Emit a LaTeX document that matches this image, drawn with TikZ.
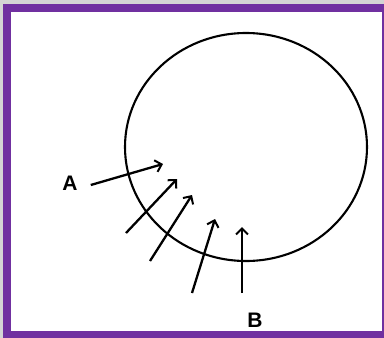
\documentclass[tikz,border=0pt]{standalone}
\usepackage{fontspec}
\setmainfont{Liberation Sans}
\usetikzlibrary{arrows.meta,shapes.geometric}
\definecolor{frame}{HTML}{7030A0}
\definecolor{bggray}{HTML}{D4D4D4}
\tikzset{
  lbl/.style={font=\bfseries\fontsize{21}{21}\selectfont, inner sep=0pt},
  ray/.style={line width=2.3pt, -{Straight Barb[length=6pt,width=12pt,line width=2pt]}},
  body/.style={draw, ellipse, line width=2.1pt, minimum width=242pt, minimum height=228pt, inner sep=0pt}
}
\begin{document}
\begin{tikzpicture}[x=1pt,y=-1pt]
\useasboundingbox (0,0) rectangle (384,338);
\fill[bggray] (0,0) rectangle (384,338);
\fill[frame] (3,4) rectangle (384,338);
\fill[white] (11,12) rectangle (382,331);
\node[body] (circ) at (246,147) {};
\node[lbl] (A) at (70,183) {A};
\node[lbl] (B) at (255,320) {B};
\coordinate (a1) at (163,164);
\coordinate (s2) at (126,233);
\coordinate (e2) at (177,179);
\coordinate (s3) at (150,261);
\coordinate (e3) at (192,195);
\coordinate (s4) at (192,293);
\coordinate (e4) at (215,219);
\coordinate (s5) at (242,293);
\coordinate (e5) at (242,227);
\draw[ray] ([xshift=13pt,yshift=-2pt]A.east) -- (a1);
\draw[ray] (s2) -- (e2);
\draw[ray] (s3) -- (e3);
\draw[ray] (s4) -- (e4);
\draw[ray] (s5) -- (e5);
\end{tikzpicture}
\end{document}
